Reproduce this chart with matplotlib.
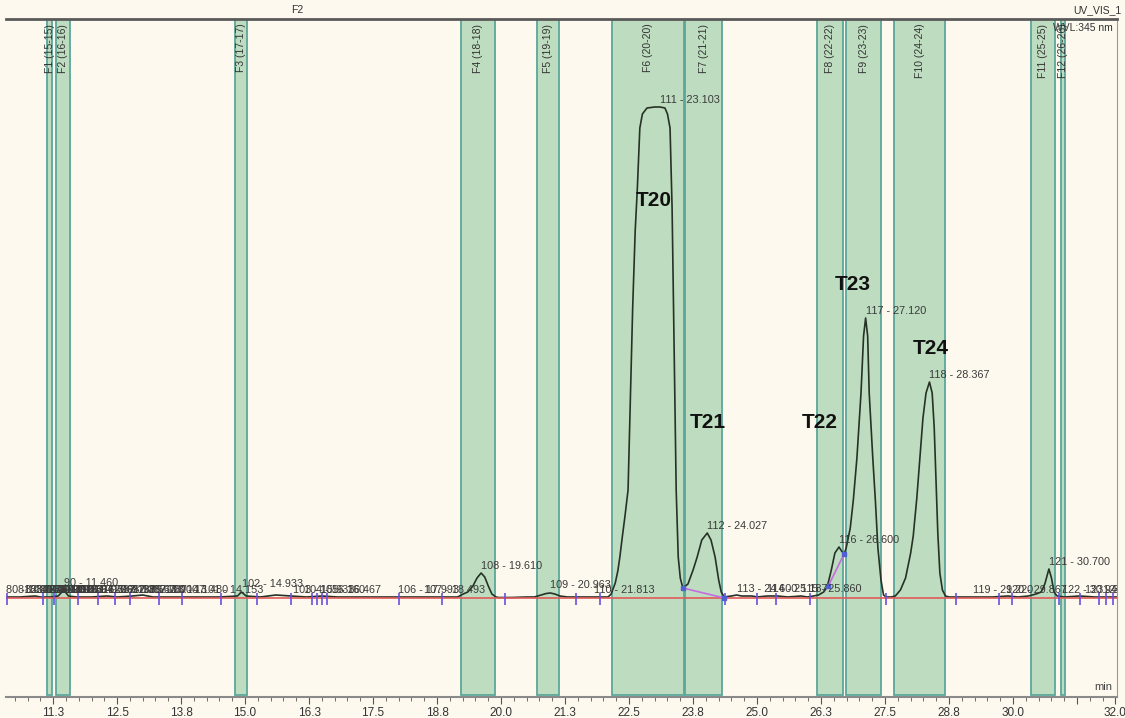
import matplotlib.pyplot as plt
from matplotlib.ticker import MultipleLocator

plt.rcParams['font.family'] = ['Liberation Sans', 'DejaVu Sans']

# collected fractions (start / end, min)
frac_names = ["F1 (15-15)", "F2 (16-16)", "F3 (17-17)", "F4 (18-18)", "F5 (19-19)", "F6 (20-20)",
              "F7 (21-21)", "F8 (22-22)", "F9 (23-23)", "F10 (24-24)", "F11 (25-25)", "F12 (26-26)"]
frac_start = [11.13, 11.31, 14.80, 19.22, 20.70, 22.17, 23.59, 26.17, 26.74, 27.68, 30.35, 30.94]
frac_end = [11.23, 11.58, 15.04, 19.88, 21.13, 23.57, 24.32, 26.68, 27.42, 28.67, 30.82, 31.02]

# UV trace at 345 nm (min, mAU)
trace_t = [10.33, 10.60, 10.90, 11.00, 11.20, 11.35, 11.46, 11.55, 11.70, 12.00, 12.30, 12.50,
           12.80, 13.00, 13.20, 13.50, 14.00, 14.50, 14.85, 14.93, 15.02, 15.30, 15.60, 15.90,
           16.20, 16.50, 16.80, 17.30, 17.80, 18.20, 18.60, 19.00,
           19.15, 19.26, 19.35, 19.45, 19.53, 19.61, 19.68, 19.75, 19.82, 19.90, 19.95,
           20.20, 20.50, 20.65, 20.78, 20.88, 20.963, 21.05, 21.15, 21.30, 21.60, 21.90,
           22.05, 22.09, 22.15, 22.23, 22.28, 22.32, 22.37, 22.42, 22.48, 22.52, 22.57, 22.62,
           22.66, 22.71, 22.76, 22.85, 23.00, 23.103, 23.20, 23.25, 23.30, 23.34, 23.38, 23.42,
           23.46, 23.50, 23.55,
           23.65, 23.75, 23.83, 23.92, 24.027, 24.10, 24.18, 24.25, 24.30, 24.36,
           24.50, 24.60, 24.70, 24.90, 25.00, 25.20, 25.40, 25.60, 25.86, 25.98,
           26.10, 26.20, 26.30, 26.37, 26.45, 26.52, 26.60, 26.65, 26.70,
           26.74, 26.82, 26.88, 26.95, 27.03, 27.08, 27.12, 27.16, 27.19, 27.26, 27.31, 27.36,
           27.42, 27.47, 27.52,
           27.62, 27.70, 27.80, 27.90, 28.00, 28.05, 28.12, 28.18, 28.24, 28.30, 28.367, 28.42,
           28.46, 28.50, 28.53, 28.57, 28.62, 28.68, 28.75,
           29.00, 29.30, 29.60, 29.90, 30.10, 30.30, 30.45, 30.55, 30.62, 30.70, 30.75, 30.80,
           30.86, 31.00, 31.30, 31.60, 32.03]
trace_s = [1, 1, 2, 1, 1, 2, 8, 2, 1, 1, 2, 1,
           2, 3, 1, 1, 1, 1, 2, 6, 2, 1, 3, 2,
           1, 2, 1, 1, 1, 1, 1, 1,
           1, 4, 6, 12, 20, 25, 21, 12, 4, 1, 0.5,
           0.5, 1, 1, 3, 4.5, 5, 4, 2, 1, 1, 1,
           1, 1, 4, 15, 27, 41, 62, 82, 108, 190, 290, 368,
           408, 470, 484, 490, 491, 491, 490, 484, 470, 390, 250, 108,
           41, 20, 10,
           14, 28, 41, 58, 65, 58, 41, 18, 6, 1,
           2, 3, 2, 2, 1, 2, 2, 1, 2, 1,
           2, 3, 6, 11, 28, 45, 51, 47, 44,
           50, 70, 98, 140, 205, 262, 280, 262, 205, 140, 98, 50,
           18, 3, 1,
           1, 2, 8, 20, 45, 62, 100, 140, 180, 205, 216, 205,
           170, 110, 65, 25, 8, 2, 1,
           1, 1, 1, 2, 1, 2, 4, 6, 14, 29, 20, 6,
           2, 1, 2, 1, 1]

# peak table: number, retention time, apex height
peak_num = list(range(80, 125))
peak_rt = [10.327, 10.560, 10.693, 10.800, 10.907, 10.993, 11.080, 11.167, 11.267, 11.367, 11.460,
           11.627, 11.787, 11.987, 12.187, 12.387, 12.567, 12.787, 13.000, 13.147,
           13.480, 14.153, 14.933, 15.933, 16.160, 16.467, 17.993, 18.493,
           19.610, 20.963, 21.813, 23.103, 24.027, 24.600, 25.187, 25.860, 26.600, 27.120,
           28.367, 29.220, 29.867, 30.700, 30.947, 31.413, 31.760]
peak_height = [1, 1, 1, 1, 1, 1, 1, 1, 1, 1, 8,
               1, 1, 1, 1, 1, 1, 1, 1, 1,
               1, 1, 7, 1, 1, 1, 1, 1,
               25, 6, 1, 491, 65, 2, 2, 2, 51, 280,
               216, 1, 1, 29, 1, 1, 1]

# peak start / end markers
delim_t = [10.35, 11.05, 11.27, 11.74, 12.13, 12.46, 12.75, 13.32, 13.77, 14.53, 15.23, 15.90,
           16.31, 16.41, 16.50, 16.60, 18.01, 18.85, 20.08, 21.46, 21.93, 24.38, 25.00, 25.37,
           26.04, 27.52, 28.89, 29.73, 29.98, 30.90, 31.31, 31.68, 31.82, 31.95]

# skim / drop lines
skim_t = [[23.55, 24.36], [26.39, 26.70]]
skim_s = [[10, 0], [12, 44]]

# compound tags
tag_names = ["T20", "T21", "T22", "T23", "T24"]
tag_t = [22.99, 24.04, 26.23, 26.875, 28.40]
tag_s = [397, 175, 175, 314, 249]

tick_pos = [11.25, 12.5, 13.75, 15.0, 16.25, 17.5, 18.75, 20.0, 21.25, 22.5, 23.75, 25.0,
            26.25, 27.5, 28.75, 30.0, 31.25, 32.0]
tick_lbl = ["11.3", "12.5", "13.8", "15.0", "16.3", "17.5", "18.8", "20.0", "21.3", "22.5",
            "23.8", "25.0", "26.3", "27.5", "28.8", "30.0", "", "32.0"]

bg = '#FDF9EE'
fig = plt.figure(figsize=(11.25, 7.18), dpi=100, facecolor=bg)
ax = fig.add_axes([6 / 1125, 21 / 718, 1111 / 1125, 678 / 718])
ax.set_facecolor(bg)
ax.set_xlim(10.33, 32.03)
ax.set_ylim(-99, 579)

for name, s, e in zip(frac_names, frac_start, frac_end):
    ax.axvspan(s, e, ymin=0.003, ymax=1, facecolor='#BEDCBF', edgecolor='#5BA79B', lw=1.3, zorder=1)
    ax.text((s + e) / 2, 0.993, name, rotation=90, ha='center', va='top', fontsize=7.5,
            color='#333333', transform=ax.get_xaxis_transform(), zorder=2)

ax.plot(trace_t, trace_s, color='#263226', lw=1.2, zorder=4)
ax.axhline(0, color='#E25A5A', lw=1.2, zorder=5)
ax.vlines(delim_t, -7, 5, color='#6A50E0', lw=1.2, zorder=6)

for xs, ys in zip(skim_t, skim_s):
    ax.plot(xs, ys, color='#C56BE0', lw=1.2, zorder=6)
    ax.plot(xs, ys, ls='none', marker='s', ms=2.5, color='#5060D0', zorder=7)

for n, t, h in zip(peak_num, peak_rt, peak_height):
    ax.text(t, h + 2, f"{n} - {t:.3f}", ha='left', va='bottom', fontsize=7.8,
            color='#3A3A3A', clip_on=True, zorder=8)

for name, t, s in zip(tag_names, tag_t, tag_s):
    ax.text(t, s, name, ha='center', va='center', fontsize=15, fontweight='bold',
            color='#111111', zorder=9)

ax.set_xticks(tick_pos)
ax.set_xticklabels(tick_lbl)
ax.xaxis.set_minor_locator(MultipleLocator(0.25))
ax.tick_params(axis='x', which='major', direction='out', length=5, color='#555555',
               labelsize=8.5, labelcolor='#333333', pad=2)
ax.tick_params(axis='x', which='minor', direction='out', length=3, color='#555555')
ax.set_yticks([])

ax.spines['left'].set_visible(False)
ax.spines['top'].set_linewidth(2)
ax.spines['top'].set_color('#5A5A5A')
ax.spines['right'].set_linewidth(0.8)
ax.spines['right'].set_color('#999999')
ax.spines['bottom'].set_linewidth(1.5)
ax.spines['bottom'].set_color('#8A8A8A')

ax.text(0.9955, 0.015, "min", ha='right', va='center', fontsize=8, color='#444444',
        transform=ax.transAxes)
fig.text(297 / 1125, 1 - 10 / 718, "F2", ha='center', va='center', fontsize=7.5, color='#333333')
fig.text(1122 / 1125, 1 - 10 / 718, "UV_VIS_1", ha='right', va='center', fontsize=7.5, color='#333333')
fig.text(1113 / 1125, 1 - 28 / 718, "WVL:345 nm", ha='right', va='center', fontsize=7.5, color='#333333')

fig.savefig('out.png', dpi=100, facecolor=bg)
